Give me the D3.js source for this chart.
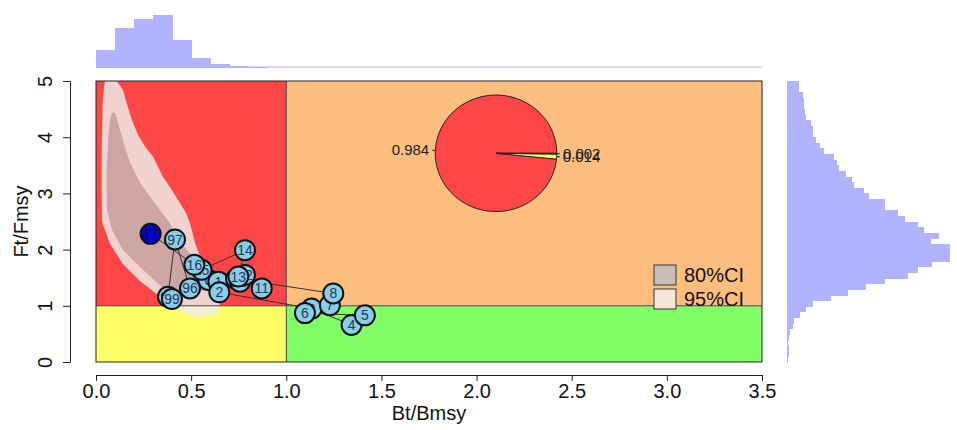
<!DOCTYPE html>
<html>
<head>
<meta charset="utf-8">
<script src="https://cdn.jsdelivr.net/npm/d3@7"></script>
<style>
  body { margin: 0; background: #fff; }
  text { font-family: "Liberation Sans", Arial, sans-serif; }
</style>
</head>
<body>
<svg id="chart" width="957" height="430"></svg>
<script>
// trajectory (year labels, B/Bmsy, F/Fmsy)
var yearLabels = ["96","97","98","99","0","1","2","3","4","5","6","7","8","9","10","11","12","13","14","15","16","17"];
var bRatio = [0.494,0.415,0.378,0.399,0.590,0.643,0.648,1.133,1.343,1.413,1.098,1.229,1.247,0.736,0.757,0.871,0.783,0.748,0.783,0.555,0.517,0.287];
var fRatio = [1.31,2.18,1.16,1.12,1.46,1.43,1.24,0.95,0.66,0.83,0.87,1.01,1.22,1.48,1.43,1.31,1.55,1.52,1.99,1.64,1.73,2.28];

// confidence regions of the last year, as [B, F] outlines
var ci95 = [[0.047,5.0],[0.109,5.0],[0.142,4.84],[0.161,4.61],[0.188,4.31],[0.221,4.04],[0.258,3.83],[0.300,3.65],[0.352,3.29],[0.399,3.06],[0.441,2.83],[0.473,2.65],[0.494,2.47],[0.520,2.12],[0.555,1.81],[0.599,1.51],[0.641,1.16],[0.652,0.98],[0.625,0.84],[0.547,0.80],[0.483,0.84],[0.441,0.91],[0.389,1.03],[0.310,1.23],[0.231,1.44],[0.142,1.74],[0.074,2.10],[0.032,2.49],[0.029,3.06],[0.030,3.77],[0.035,4.61],[0.042,4.88]];
var ci80 = [[0.083,4.43],[0.100,4.44],[0.126,4.13],[0.152,3.83],[0.179,3.55],[0.231,3.19],[0.284,2.94],[0.336,2.70],[0.389,2.47],[0.426,2.22],[0.478,1.99],[0.531,1.81],[0.562,1.64],[0.583,1.46],[0.562,1.28],[0.494,1.17],[0.415,1.19],[0.373,1.25],[0.321,1.41],[0.231,1.69],[0.142,1.99],[0.084,2.35],[0.058,2.70],[0.056,3.42],[0.065,4.00],[0.074,4.31]];

// kobe quadrant probabilities for the pie
var pieLabels = ["0.984","0.014","0.002"];
var pieValues = [0.984,0.014,0.002];
var pieColors = ["#FF4646","#FFFF66","#FFBE7D"];

// marginal histograms (bin width 0.1)
var bHist = [18,40,49,53,28,9.3,3.3,1.3,0.3];
var fHist = [2,5,5,3,7,10,18,22,40,57,77,133,183,237,295,363,395,435,490,490,490,433,457,413,395,355,335,295,295,245,230,202,195,177,155,150,142,110,100,87,77,77,72,58,54,50,50,47,37,37];

var xTicks = [0,0.5,1,1.5,2,2.5,3,3.5];
var yTicks = [0,1,2,3,4,5];

var svg = d3.select("#chart");
var x = d3.scaleLinear().domain([0, 3.5]).range([96, 762]);
var y = d3.scaleLinear().domain([0, 5]).range([362, 81]);

// quadrants
var quads = [
  { b0: 0, b1: 1, f0: 1, f1: 5, col: "#FF4646" },
  { b0: 1, b1: 3.5, f0: 1, f1: 5, col: "#FFBE7D" },
  { b0: 0, b1: 1, f0: 0, f1: 1, col: "#FFFF66" },
  { b0: 1, b1: 3.5, f0: 0, f1: 1, col: "#80FF66" }
];
svg.append("g").selectAll("rect")
  .data(quads)
  .join("rect")
  .attr("x", d => x(d.b0))
  .attr("y", d => y(d.f1))
  .attr("width", d => x(d.b1) - x(d.b0))
  .attr("height", d => y(d.f0) - y(d.f1))
  .attr("fill", d => d.col);

svg.append("clipPath").attr("id", "panel")
  .append("rect")
  .attr("x", x(0)).attr("y", y(5))
  .attr("width", x(3.5) - x(0)).attr("height", y(0) - y(5));

var outline = d3.line().x(d => x(d[0])).y(d => y(d[1])).curve(d3.curveLinearClosed);
var ci = svg.append("g").attr("clip-path", "url(#panel)");
ci.append("path").attr("d", outline(ci95)).attr("fill", "rgb(240,235,230)").attr("fill-opacity", 0.85);
ci.append("path").attr("d", outline(ci80)).attr("fill", "rgb(160,110,110)").attr("fill-opacity", 0.45);

// reference lines and box
svg.append("line").attr("x1", x(1)).attr("x2", x(1)).attr("y1", y(0)).attr("y2", y(5))
  .attr("stroke", "#444").attr("stroke-width", 1);
svg.append("line").attr("x1", x(0)).attr("x2", x(3.5)).attr("y1", y(1)).attr("y2", y(1))
  .attr("stroke", "#444").attr("stroke-width", 1);
svg.append("rect")
  .attr("x", x(0)).attr("y", y(5))
  .attr("width", x(3.5) - x(0)).attr("height", y(0) - y(5))
  .attr("fill", "none").attr("stroke", "#222").attr("stroke-width", 1);

// pie of stock status
var cx = 496, cy = 153.3, rx = 60.8, ry = 58.3;
var pieG = svg.append("g").attr("transform", "translate(" + cx + "," + cy + ") scale(1," + (ry / rx) + ")");
var cum = 0;
var slices = pieValues.map(function (v, i) {
  var t0 = cum * 2 * Math.PI;
  cum += v;
  var t1 = cum * 2 * Math.PI;
  return { t0: t0, t1: t1, col: pieColors[i], label: pieLabels[i] };
});
var arc = d3.arc().innerRadius(0).outerRadius(rx);
pieG.selectAll("path")
  .data(slices)
  .join("path")
  .attr("d", d => arc({ startAngle: Math.PI / 2 - d.t1, endAngle: Math.PI / 2 - d.t0 }))
  .attr("fill", d => d.col)
  .attr("stroke", "#222")
  .attr("stroke-width", 1)
  .attr("vector-effect", "non-scaling-stroke");
slices.forEach(function (d) {
  var m = (d.t0 + d.t1) / 2;
  var c = Math.cos(m), s = Math.sin(m);
  svg.append("line")
    .attr("x1", cx + rx * c).attr("y1", cy - ry * s)
    .attr("x2", cx + rx * 1.05 * c).attr("y2", cy - ry * 1.05 * s)
    .attr("stroke", "#222");
  svg.append("text")
    .attr("x", cx + rx * 1.1 * c)
    .attr("y", cy - ry * 1.1 * s)
    .attr("dy", "0.35em")
    .attr("text-anchor", c >= 0 ? "start" : "end")
    .attr("font-size", 15)
    .attr("fill", "#222")
    .text(d.label);
});

// trajectory
var traj = bRatio.map((b, i) => ({ b: b, f: fRatio[i], lab: yearLabels[i] }));
svg.append("path")
  .attr("d", d3.line().x(d => x(d.b)).y(d => y(d.f))(traj))
  .attr("fill", "none")
  .attr("stroke", "#333")
  .attr("stroke-width", 1);
var pts = svg.append("g").selectAll("g")
  .data(traj)
  .join("g")
  .attr("transform", d => "translate(" + x(d.b) + "," + y(d.f) + ")");
pts.append("circle")
  .attr("r", 10)
  .attr("fill", (d, i) => i === traj.length - 1 ? "#0000DD" : "#87CEEB")
  .attr("stroke", "#111")
  .attr("stroke-width", 2);
pts.append("text")
  .attr("text-anchor", "middle")
  .attr("dy", "0.36em")
  .attr("font-size", 14)
  .attr("fill", (d, i) => i === traj.length - 1 ? "#111" : "#2a3550")
  .text(d => d.lab);

// legend
var legend = [
  { lab: "80%CI", col: "#C8BEB6" },
  { lab: "95%CI", col: "#F4E6DC" }
];
var lg = svg.append("g").selectAll("g")
  .data(legend)
  .join("g")
  .attr("transform", (d, i) => "translate(654," + (265 + i * 24) + ")");
lg.append("rect").attr("width", 22).attr("height", 20)
  .attr("fill", d => d.col).attr("stroke", "#333").attr("stroke-width", 1);
lg.append("text").attr("x", 30).attr("y", 17).attr("font-size", 20).attr("fill", "#111").text(d => d.lab);

// axes
var xAxis = svg.append("g")
  .attr("transform", "translate(0,375)")
  .call(d3.axisBottom(x).tickValues(xTicks).tickFormat(d3.format(".1f")).tickSizeOuter(0).tickSize(6));
xAxis.selectAll("text").attr("font-size", 20).attr("fill", "#111");
var yAxis = svg.append("g")
  .attr("transform", "translate(70,0)")
  .call(d3.axisLeft(y).tickValues(yTicks).tickFormat(d3.format("d")).tickSizeOuter(0).tickSize(7));
yAxis.selectAll("text")
  .attr("x", null).attr("dy", null)
  .attr("text-anchor", "middle")
  .attr("transform", "translate(-18,0) rotate(-90)")
  .attr("font-size", 20).attr("fill", "#111");
svg.selectAll(".domain, .tick line").attr("stroke", "#222");

svg.append("text").attr("x", x(1.75)).attr("y", 420)
  .attr("text-anchor", "middle").attr("font-size", 20).attr("fill", "#111").text("Bt/Bmsy");
svg.append("text").attr("transform", "translate(28," + y(2.5) + ") rotate(-90)")
  .attr("text-anchor", "middle").attr("font-size", 20).attr("fill", "#111").text("Ft/Fmsy");

// marginal histograms
var histCol = "#B0B3FF";
var hTop = d3.scaleLinear().domain([0, 53]).range([0, 52.6]);
svg.append("g").attr("shape-rendering", "crispEdges").selectAll("rect")
  .data(bHist)
  .join("rect")
  .attr("x", (d, i) => x(i * 0.1))
  .attr("width", (d, i) => x((i + 1) * 0.1) - x(i * 0.1) + 0.5)
  .attr("y", d => 67.5 - hTop(d))
  .attr("height", d => hTop(d))
  .attr("fill", histCol);
svg.append("line").attr("x1", x(0)).attr("x2", x(3.5)).attr("y1", 67).attr("y2", 67)
  .attr("stroke", histCol).attr("stroke-width", 1.2);

var hRight = d3.scaleLinear().domain([0, 490]).range([0, 163]);
svg.append("g").attr("shape-rendering", "crispEdges").selectAll("rect")
  .data(fHist)
  .join("rect")
  .attr("x", 787)
  .attr("y", (d, i) => y((i + 1) * 0.1))
  .attr("height", (d, i) => y(i * 0.1) - y((i + 1) * 0.1) + 1)
  .attr("width", d => Math.max(1, hRight(d)))
  .attr("fill", histCol);
</script>
</body>
</html>
